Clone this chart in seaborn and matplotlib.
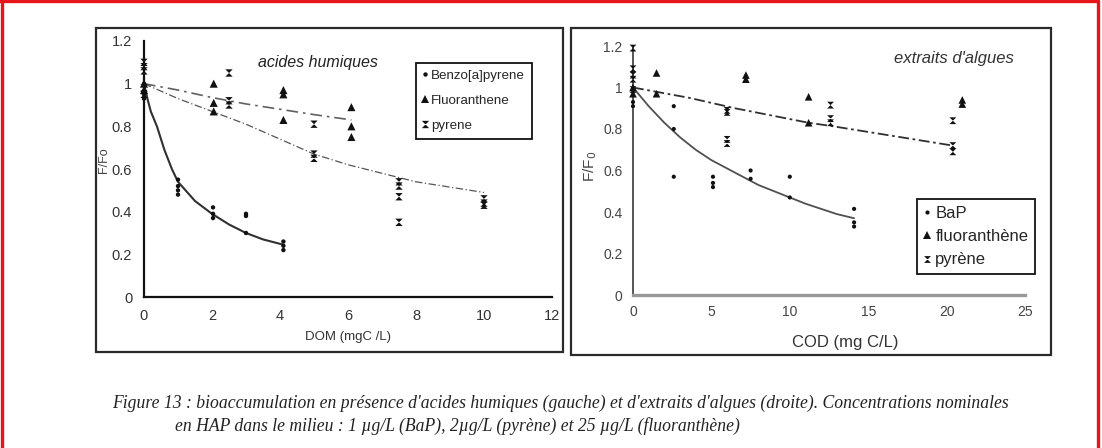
import matplotlib

matplotlib.use("Agg")
import matplotlib.pyplot as plt
import numpy as np
import pandas as pd
import seaborn as sns
from matplotlib.patches import Rectangle
from matplotlib.lines import Line2D

# ---- left panel: acides humiques (DOM, mgC/L) ----
hum_bap_x = [0, 0, 0, 1, 1, 1, 1, 2.03, 2.03, 2.03, 3, 3, 3, 4.1, 4.1, 4.1]
hum_bap_y = [1.0, 0.95, 0.93, 0.55, 0.52, 0.50, 0.48, 0.42, 0.39, 0.37, 0.39, 0.38, 0.30, 0.26, 0.24, 0.22]
hum_flu_x = [0, 0, 2.05, 2.05, 2.05, 4.1, 4.1, 4.1, 6.1, 6.1, 6.1]
hum_flu_y = [1.0, 0.97, 1.0, 0.91, 0.87, 0.97, 0.95, 0.83, 0.89, 0.80, 0.75]
hum_pyr_x = [0, 0, 0, 0, 0, 2.5, 2.5, 2.5, 5, 5, 5, 7.5, 7.5, 7.5, 7.5, 10, 10, 10]
hum_pyr_y = [1.10, 1.08, 1.06, 0.98, 0.95, 1.05, 0.92, 0.90, 0.81, 0.67, 0.65, 0.54, 0.52, 0.47, 0.35, 0.46, 0.44, 0.43]

# fitted curves
hum_bap_fit_x = [0, 0.1, 0.2, 0.38, 0.6, 0.82, 1.0, 1.5, 2.0, 2.5, 3.0, 3.5, 4.1]
hum_bap_fit_y = [1.0, 0.93, 0.87, 0.80, 0.69, 0.60, 0.54, 0.45, 0.39, 0.34, 0.30, 0.27, 0.245]
hum_flu_fit_x = [0, 1, 2, 3, 4, 5, 6.1]
hum_flu_fit_y = [1.0, 0.97, 0.935, 0.905, 0.88, 0.855, 0.83]
hum_pyr_fit_x = [0, 1, 2, 3, 4, 5, 6, 7, 8, 9, 10]
hum_pyr_fit_y = [1.0, 0.93, 0.87, 0.81, 0.74, 0.67, 0.62, 0.58, 0.54, 0.515, 0.49]

# ---- right panel: extraits d'algues (COD, mg C/L) ----
alg_bap_x = [0, 0, 2.6, 2.6, 2.6, 5.1, 5.1, 5.1, 7.5, 7.5, 10, 10, 14.1, 14.1, 14.1]
alg_bap_y = [0.93, 0.91, 0.91, 0.80, 0.57, 0.57, 0.54, 0.52, 0.60, 0.56, 0.57, 0.47, 0.415, 0.35, 0.33]
alg_flu_x = [0, 0, 1.5, 1.5, 7.2, 7.2, 11.2, 11.2, 21.0, 21.0]
alg_flu_y = [1.0, 0.97, 1.07, 0.97, 1.06, 1.04, 0.955, 0.83, 0.94, 0.92]
alg_pyr_x = [0, 0, 0, 0, 0, 6, 6, 6, 6, 12.6, 12.6, 12.6, 20.4, 20.4, 20.4]
alg_pyr_y = [1.19, 1.09, 1.06, 1.04, 0.99, 0.89, 0.88, 0.75, 0.73, 0.915, 0.85, 0.83, 0.84, 0.72, 0.69]

alg_bap_fit_x = [0, 1, 2, 3, 4, 5, 6, 7, 8, 9, 10, 11, 12, 13, 14.1]
alg_bap_fit_y = [1.0, 0.91, 0.83, 0.76, 0.70, 0.65, 0.61, 0.57, 0.53, 0.50, 0.47, 0.44, 0.415, 0.39, 0.37]
alg_pyr_fit_x = [0, 3.6, 6.5, 11.2, 12.6, 20.4]
alg_pyr_fit_y = [1.0, 0.95, 0.90, 0.83, 0.815, 0.72]

hum_labels = ["Benzo[a]pyrene", "Fluoranthene", "pyrene"]
alg_labels = ["BaP", "fluoranthène", "pyrène"]

W, H = 1102, 448


def fx(x):
    return x / W


def fy(y):
    return 1 - y / H


def points_frame(xs, ys, labels):
    rows = []
    for x_list, y_list, lab in zip(xs, ys, labels):
        rows += [{"x": a, "y": b, "compound": lab} for a, b in zip(x_list, y_list)]
    return pd.DataFrame(rows)


hourglass = [(-1, 1), (1, 1), (-1, -1), (1, -1), (-1, 1)]

sns.set_style("white")
plt.rcParams["font.family"] = ["Liberation Sans", "DejaVu Sans"]

fig = plt.figure(figsize=(W / 100, H / 100), dpi=100)

# red frame and panel boxes
fig.add_artist(Line2D([fx(1.5), fx(1.5)], [0, 1], color="#e8141c", lw=2.4, transform=fig.transFigure))
fig.add_artist(Line2D([0, fx(1098)], [fy(1.5), fy(1.5)], color="#e8141c", lw=2.4, transform=fig.transFigure))
fig.add_artist(Line2D([fx(1098), fx(1098)], [0, fy(1.5)], color="#e8141c", lw=2.4, transform=fig.transFigure))
fig.add_artist(Rectangle((fx(96), fy(352)), fx(563) - fx(96), fy(28) - fy(352), fill=False,
                         ec="#2a2a2a", lw=1.6, transform=fig.transFigure))
fig.add_artist(Rectangle((fx(571), fy(355)), fx(1051) - fx(571), fy(28) - fy(355), fill=False,
                         ec="#2a2a2a", lw=1.6, transform=fig.transFigure))

narrow = ["Liberation Sans Narrow", "Liberation Sans", "DejaVu Sans"]

# ---------------- left panel ----------------
ax1 = fig.add_axes([fx(144), fy(297), fx(552) - fx(144), fy(41) - fy(297)])
df1 = points_frame([hum_bap_x, hum_flu_x, hum_pyr_x], [hum_bap_y, hum_flu_y, hum_pyr_y], hum_labels)
sns.lineplot(x=hum_bap_fit_x, y=hum_bap_fit_y, ax=ax1, color="#303030", lw=1.5, sort=False, estimator=None)
sns.lineplot(x=hum_flu_fit_x, y=hum_flu_fit_y, ax=ax1, color="#606060", lw=1.2, sort=False, estimator=None,
             linestyle=(0, (7, 3, 1.5, 3)))
sns.lineplot(x=hum_pyr_fit_x, y=hum_pyr_fit_y, ax=ax1, color="#555555", lw=0.9, sort=False, estimator=None,
             linestyle=(0, (6, 2, 1, 2)))
sns.scatterplot(data=df1, x="x", y="y", hue="compound", style="compound", size="compound", ax=ax1,
                palette={k: "#111111" for k in hum_labels},
                markers={hum_labels[0]: "o", hum_labels[1]: "^", hum_labels[2]: hourglass},
                sizes={hum_labels[0]: 10, hum_labels[1]: 34, hum_labels[2]: 28},
                linewidth=0, clip_on=False, zorder=5)
ax1.set_xlim(0, 12)
ax1.set_ylim(0, 1.2)
ax1.set_xticks([0, 2, 4, 6, 8, 10, 12])
ax1.set_xticklabels(["0", "2", "4", "6", "8", "10", "12"])
ax1.set_yticks([0, 0.2, 0.4, 0.6, 0.8, 1.0, 1.2])
ax1.set_yticklabels(["0", "0.2", "0.4", "0.6", "0.8", "1", "1.2"])
ax1.set_xlabel("")
ax1.set_ylabel("")
for s in ["top", "right"]:
    ax1.spines[s].set_visible(False)
for s in ["left", "bottom"]:
    ax1.spines[s].set_color("#111111")
    ax1.spines[s].set_linewidth(1.6)
ax1.tick_params(direction="inout", length=9, width=1.4, color="#111111", labelsize=10.5,
                labelcolor="#333333", pad=4)
for t in ax1.get_xticklabels() + ax1.get_yticklabels():
    t.set_family(narrow)
ax1.set_facecolor("none")
h, l = ax1.get_legend_handles_labels()
ax1.legend(h, l, loc="upper left", bbox_to_anchor=(fx(416), fy(63)), bbox_transform=fig.transFigure,
           borderaxespad=0, frameon=True, fancybox=False, edgecolor="#111111", handlelength=0.4,
           handletextpad=0.25, borderpad=0.5, labelspacing=0.95, prop={"family": narrow, "size": 9.6},
           framealpha=1)
ax1.get_legend().get_frame().set_linewidth(1.3)
fig.text(fx(318), fy(62), "acides humiques", style="italic", fontsize=11.5, color="#222222",
         ha="center", va="center")
fig.text(fx(348), fy(337), "DOM (mgC /L)", fontsize=9.5, family=narrow, color="#333333",
         ha="center", va="center")
fig.text(fx(104), fy(160), "F/Fo", fontsize=9, family=narrow, color="#444444", rotation=90,
         ha="center", va="center")

# ---------------- right panel ----------------
ax2 = fig.add_axes([fx(633), fy(295), fx(1025) - fx(633), fy(46) - fy(295)])
df2 = points_frame([alg_bap_x, alg_flu_x, alg_pyr_x], [alg_bap_y, alg_flu_y, alg_pyr_y], alg_labels)
sns.lineplot(x=alg_bap_fit_x, y=alg_bap_fit_y, ax=ax2, color="#505050", lw=1.3, sort=False, estimator=None)
sns.lineplot(x=alg_pyr_fit_x, y=alg_pyr_fit_y, ax=ax2, color="#303030", lw=1.3, sort=False, estimator=None,
             linestyle=(0, (6, 2, 1.5, 2)))
sns.scatterplot(data=df2, x="x", y="y", hue="compound", style="compound", size="compound", ax=ax2,
                palette={k: "#111111" for k in alg_labels},
                markers={alg_labels[0]: "o", alg_labels[1]: "^", alg_labels[2]: hourglass},
                sizes={alg_labels[0]: 9, alg_labels[1]: 30, alg_labels[2]: 24},
                linewidth=0, clip_on=False, zorder=5)
ax2.set_xlim(0, 25)
ax2.set_ylim(0, 1.2)
ax2.set_xticks([0, 5, 10, 15, 20, 25])
ax2.set_xticklabels(["0", "5", "10", "15", "20", "25"])
ax2.set_yticks([0, 0.2, 0.4, 0.6, 0.8, 1.0, 1.2])
ax2.set_yticklabels(["0", "0.2", "0.4", "0.6", "0.8", "1", "1.2"])
ax2.set_xlabel("")
ax2.set_ylabel("")
for s in ["top", "right"]:
    ax2.spines[s].set_visible(False)
ax2.spines["left"].set_color("#555555")
ax2.spines["left"].set_linewidth(1.4)
ax2.spines["bottom"].set_color("#999999")
ax2.spines["bottom"].set_linewidth(2.4)
ax2.tick_params(direction="inout", length=9, width=1.3, color="#444444", labelsize=10,
                labelcolor="#444444", pad=3)
for t in ax2.get_xticklabels() + ax2.get_yticklabels():
    t.set_family(narrow)
ax2.set_facecolor("none")
h, l = ax2.get_legend_handles_labels()
ax2.legend(h, l, loc="upper left", bbox_to_anchor=(fx(917), fy(199)), bbox_transform=fig.transFigure,
           borderaxespad=0, frameon=True, fancybox=False, edgecolor="#111111", handlelength=0.4,
           handletextpad=0.3, borderpad=0.4, labelspacing=0.5, prop={"size": 12}, framealpha=1)
ax2.get_legend().get_frame().set_linewidth(1.3)
fig.text(fx(954), fy(58), "extraits d'algues", style="italic", fontsize=12, color="#333333",
         ha="center", va="center")
fig.text(fx(845), fy(342), "COD (mg C/L)", fontsize=12, color="#333333", ha="center", va="center")
fig.text(fx(590), fy(166), "F/F$_0$", fontsize=11, color="#444444", rotation=90,
         ha="center", va="center")

# ---------------- caption ----------------
cap_font = {"family": ["Liberation Serif", "DejaVu Serif"], "style": "italic", "size": 12.7, "color": "#222222"}
fig.text(fx(112), fy(403),
         "Figure 13 : bioaccumulation en présence d'acides humiques (gauche) et d'extraits d'algues (droite). "
         "Concentrations nominales", ha="left", va="center", **cap_font)
fig.text(fx(175), fy(426),
         "en HAP dans le milieu : 1 µg/L (BaP), 2µg/L (pyrène) et 25 µg/L (fluoranthène)",
         ha="left", va="center", **cap_font)

fig.savefig("out.png", dpi=100)
